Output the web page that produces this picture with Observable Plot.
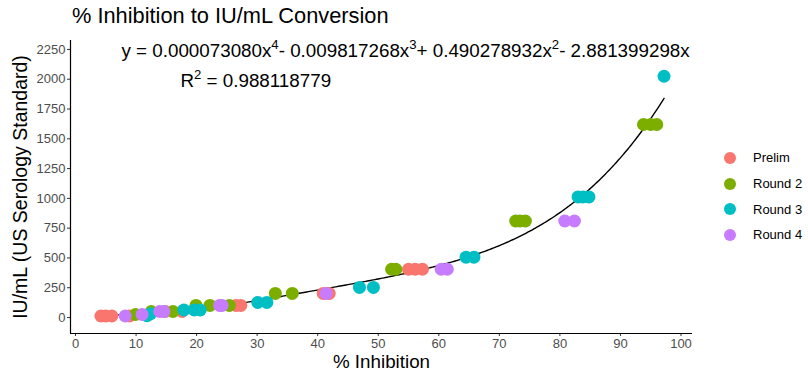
<!DOCTYPE html>
<html><head><meta charset="utf-8">
<script src="https://cdn.jsdelivr.net/npm/d3@7"></script>
<script src="https://cdn.jsdelivr.net/npm/@observablehq/plot@0.6"></script>
<style>
body{margin:0;background:#fff;font-family:"Liberation Sans",Arial,sans-serif;}
#wrap{position:relative;width:808px;height:376px;overflow:hidden;}
#title{position:absolute;left:72px;top:3px;font-size:21.8px;line-height:26px;color:#000;white-space:nowrap;}
#chart{position:absolute;left:0;top:34px;}
#legend{position:absolute;left:724px;top:145px;font-size:13px;color:#000;}
.item{height:25.7px;display:flex;align-items:center;}
.sw{width:12px;height:12px;border-radius:50%;margin-right:17px;}
</style></head><body>
<div id="wrap">
  <div id="title">% Inhibition to IU/mL Conversion</div>
  <div id="chart"></div>
  <div id="legend"></div>
</div>
<script>
const seriesNames = ["Prelim", "Round 2", "Round 3", "Round 4"];
const seriesColors = ["#F8766D", "#7CAE00", "#00BFC4", "#C77CFF"];

const prelimX = [4.2, 5.0, 6.0, 8.9, 14.8, 17.6, 26.5, 27.3, 40.9, 41.9, 55.0, 56.1, 57.3];
const prelimY = [12.66, 12.66, 12.66, 12.66, 50.6, 50.6, 101.25, 101.25, 202.5, 202.5, 405, 405, 405];

const round2X = [9.9, 12.5, 16.1, 19.9, 22.2, 25.4, 33.0, 35.8, 52.2, 52.9, 72.7, 73.4, 74.3, 93.8, 95.0, 96.0];
const round2Y = [25.3, 50.6, 50.6, 101.25, 101.25, 101.25, 202.5, 202.5, 405, 405, 810, 810, 810, 1620, 1620, 1620];

const round3X = [11.8, 12.4, 17.9, 19.6, 20.6, 30.1, 31.6, 46.9, 49.2, 64.5, 65.8, 83.0, 83.8, 84.8, 97.2];
const round3Y = [15.8, 31.6, 63.3, 63.3, 63.3, 126.6, 126.6, 253.1, 253.1, 506.25, 506.25, 1012.5, 1012.5, 1012.5, 2025];

const round4X = [8.2, 11.0, 13.9, 14.6, 23.8, 24.2, 41.4, 60.4, 61.4, 80.8, 82.4];
const round4Y = [12.66, 25.3, 50.6, 50.6, 101.25, 101.25, 202.5, 405, 405, 810, 810];

const equationText = "y = 0.000073080x⁴- 0.009817268x³+ 0.490278932x²- 2.881399298x";
const r2Text = "R² = 0.988118779";

const xTicks = [0,10,20,30,40,50,60,70,80,90,100];
const yTicks = [0,250,500,750,1000,1250,1500,1750,2000,2250];

const xs = [prelimX, round2X, round3X, round4X];
const ys = [prelimY, round2Y, round3Y, round4Y];
const points = [];
xs.forEach((arr, i) => arr.forEach((x, j) => points.push({x, y: ys[i][j], round: seriesNames[i]})));

// 4th-degree least-squares fit of the points (as the chart's smoother does)
function polyfit(px, py, deg) {
  const s = 100, m = deg + 1;
  const A = Array.from({length: m}, () => new Array(m + 1).fill(0));
  px.forEach((x, i) => {
    const p = Array.from({length: m}, (_, k) => Math.pow(x / s, k));
    for (let r = 0; r < m; r++) {
      for (let c = 0; c < m; c++) A[r][c] += p[r] * p[c];
      A[r][m] += p[r] * py[i];
    }
  });
  for (let c = 0; c < m; c++) {
    let piv = c;
    for (let r = c + 1; r < m; r++) if (Math.abs(A[r][c]) > Math.abs(A[piv][c])) piv = r;
    [A[c], A[piv]] = [A[piv], A[c]];
    for (let r = 0; r < m; r++) if (r !== c) {
      const f = A[r][c] / A[c][c];
      for (let k = c; k <= m; k++) A[r][k] -= f * A[c][k];
    }
  }
  const coef = A.map((row, i) => row[m] / row[i]);
  return x => coef.reduce((acc, c, k) => acc + c * Math.pow(x / s, k), 0);
}
const fit = polyfit(points.map(d => d.x), points.map(d => d.y), 4);
const xMin = d3.min(points, d => d.x), xMax = d3.max(points, d => d.x);
const curve = d3.range(xMin, xMax, 0.25).concat([xMax]).map(x => ({x, y: fit(x)}));

const font = '"Liberation Sans", Arial, sans-serif';
const plot = Plot.plot({
  width: 808, height: 342,
  marginLeft: 70, marginRight: 116, marginTop: 6, marginBottom: 43,
  style: {fontFamily: font, background: "#fff"},
  x: {domain: [-0.83, 101.9]},
  y: {domain: [-134, 2325]},
  color: {domain: seriesNames, range: seriesColors},
  marks: [
    Plot.axisX({ticks: xTicks, tickFormat: d => String(d), tickSize: 3, tickPadding: 2, fontSize: 13, color: "#4d4d4d", stroke: "#333", label: null}),
    Plot.axisY({ticks: yTicks, tickFormat: d => String(d), tickSize: 3, tickPadding: 2, fontSize: 13, color: "#4d4d4d", stroke: "#333", label: null}),
    Plot.ruleY([-134], {stroke: "#000", strokeWidth: 1.2}),
    Plot.ruleX([-0.83], {stroke: "#000", strokeWidth: 1.2}),
    Plot.line(curve, {x: "x", y: "y", stroke: "#000", strokeWidth: 1.4}),
    Plot.dot(points, {x: "x", y: "y", fill: "round", r: 6.5}),
    Plot.text([equationText], {frameAnchor: "top-left", dx: 51, dy: 10, textAnchor: "start", lineAnchor: "middle", fontSize: 18.8, fill: "#000"}),
    Plot.text([r2Text], {frameAnchor: "top-left", dx: 110, dy: 40, textAnchor: "start", lineAnchor: "middle", fontSize: 18.8, fill: "#000"}),
    Plot.text(["% Inhibition"], {frameAnchor: "bottom", dy: 28, lineAnchor: "middle", fontSize: 18.8, fill: "#000"}),
    Plot.text(["IU/mL (US Serology Standard)"], {frameAnchor: "left", dx: -50, rotate: -90, textAnchor: "middle", fontSize: 19.5, fill: "#000"})
  ]
});
document.getElementById("chart").appendChild(plot);

// render superscripts as raised tspans
plot.querySelectorAll("text").forEach(t => {
  const s = t.textContent;
  if (!/[²³⁴]/.test(s)) return;
  const map = {"²": "2", "³": "3", "⁴": "4"};
  const parts = s.split(/([²³⁴])/).filter(p => p !== "");
  const target = t.querySelector("tspan") || t;
  target.textContent = "";
  let raised = false;
  parts.forEach(p => {
    const ts = document.createElementNS("http://www.w3.org/2000/svg", "tspan");
    if (map[p]) {
      ts.textContent = map[p];
      ts.setAttribute("font-size", "70%");
      ts.setAttribute("dy", "-0.55em");
      raised = true;
    } else {
      ts.textContent = p;
      if (raised) { ts.setAttribute("dy", "0.385em"); raised = false; }
    }
    target.appendChild(ts);
  });
});

const legend = document.getElementById("legend");
seriesNames.forEach((n, i) => {
  const it = document.createElement("div"); it.className = "item";
  const sw = document.createElement("div"); sw.className = "sw"; sw.style.background = seriesColors[i];
  const lb = document.createElement("span"); lb.textContent = n;
  it.appendChild(sw); it.appendChild(lb); legend.appendChild(it);
});
</script>
</body></html>
